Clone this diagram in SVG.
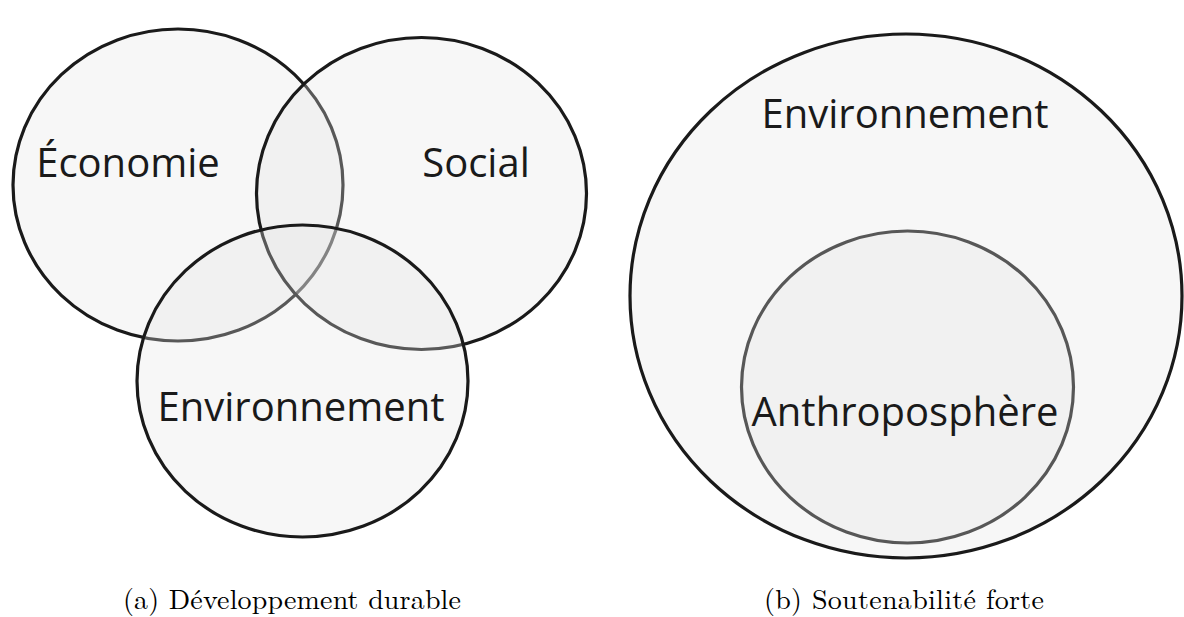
<svg xmlns="http://www.w3.org/2000/svg" width="1184" height="617" viewBox="0 0 1184 617">
<style>
.c{fill:rgb(230,230,230);fill-opacity:0.31;stroke:#1a1a1a;stroke-width:3.2}
.ci{fill:rgb(230,230,230);fill-opacity:0.31;stroke:#575757;stroke-width:3.2}
.t{font-family:"Open Sans","Noto Sans",sans-serif;font-size:40px;fill:#1a1a1a;text-anchor:middle}
.cap{font-family:"Latin Modern Roman","Liberation Serif",serif;font-size:28px;fill:#000;text-anchor:middle}
</style>
<rect width="1184" height="617" fill="#fff"/>
<g id="economie"><ellipse class="c" cx="178" cy="185" rx="165" ry="156"/><text class="t" x="128" y="177">Économie</text></g>
<g id="social"><ellipse class="c" cx="421.5" cy="193.5" rx="165" ry="156"/><text class="t" x="476" y="177">Social</text></g>
<g id="environnement-a"><ellipse class="c" cx="302.5" cy="381" rx="165.5" ry="156"/><text class="t" x="301" y="421">Environnement</text></g>
<g id="caption-a"><text class="cap" x="292" y="609" textLength="338" lengthAdjust="spacing">(a) Développement durable</text></g>
<g id="environnement-b"><ellipse class="c" cx="906" cy="296" rx="276" ry="262"/><text class="t" x="905" y="128">Environnement</text></g>
<g id="anthroposphere"><ellipse class="ci" cx="907.5" cy="387" rx="166" ry="156"/><text class="t" x="905" y="426">Anthroposphère</text></g>
<g id="caption-b"><text class="cap" x="904" y="609" textLength="280" lengthAdjust="spacing">(b) Soutenabilité forte</text></g>
<g id="connectors"></g>
</svg>
